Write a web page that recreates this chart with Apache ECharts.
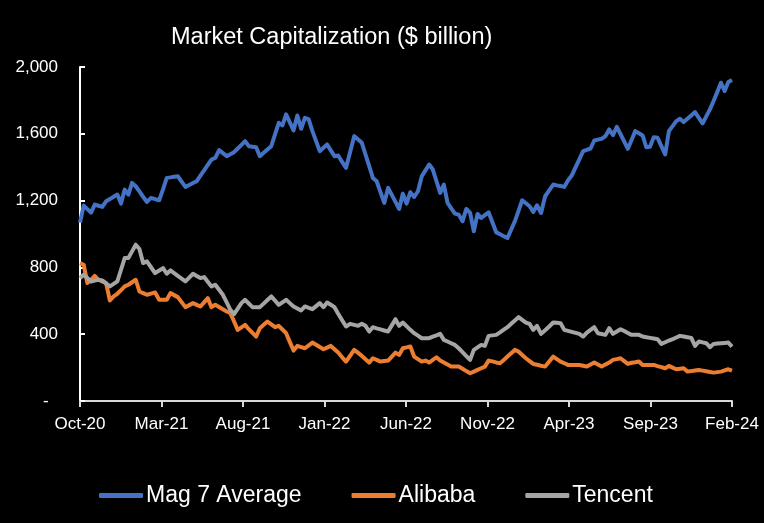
<!DOCTYPE html>
<html>
<head>
<meta charset="utf-8">
<script src="https://cdn.jsdelivr.net/npm/echarts@6/dist/echarts.min.js"></script>
<style>
  html, body { margin: 0; background: #000; }
  #chart { width: 764px; height: 523px; }
</style>
</head>
<body>
<div id="chart"></div>
<script>
// weekly observations, first one on 1 Oct 2020
var startDate = '2020-10-01';
var tickLabels = ['Oct-20', 'Mar-21', 'Aug-21', 'Jan-22', 'Jun-22', 'Nov-22', 'Apr-23', 'Sep-23', 'Feb-24'];

var mag7 = [1068, 1170, 1149, 1128, 1176, 1169, 1162, 1196, 1209, 1223, 1236, 1182, 1266, 1236, 1306, 1286, 1255, 1223, 1192, 1216,
  1209, 1202, 1269, 1336, 1339, 1343, 1346, 1314, 1282, 1293, 1305, 1316, 1349, 1381, 1414, 1446, 1456, 1502, 1484, 1466,
  1478, 1490, 1512, 1534, 1556, 1526, 1523, 1520, 1466, 1486, 1506, 1526, 1596, 1666, 1650, 1716, 1668, 1620, 1710, 1630,
  1696, 1686, 1616, 1556, 1496, 1516, 1536, 1501, 1466, 1470, 1433, 1396, 1491, 1586, 1566, 1546, 1476, 1406, 1336, 1316,
  1251, 1186, 1276, 1234, 1192, 1150, 1242, 1182, 1250, 1222, 1256, 1346, 1381, 1416, 1386, 1316, 1246, 1296, 1186, 1154,
  1122, 1116, 1076, 1150, 1126, 1016, 1120, 1096, 1113, 1130, 1070, 1010, 999, 987, 976, 1026, 1076, 1139, 1202, 1184,
  1166, 1132, 1172, 1126, 1226, 1261, 1296, 1291, 1287, 1282, 1320, 1350, 1399, 1447, 1496, 1504, 1512, 1560, 1565, 1570,
  1586, 1626, 1592, 1642, 1598, 1554, 1510, 1563, 1616, 1603, 1590, 1520, 1522, 1580, 1576, 1526, 1476, 1616, 1646, 1676,
  1690, 1670, 1690, 1710, 1730, 1696, 1662, 1704, 1746, 1796, 1851, 1906, 1856, 1910, 1922];

var alibaba = [826, 816, 706, 726, 750, 726, 716, 706, 602, 626, 642, 664, 686, 696, 711, 726, 656, 646, 636, 643,
  650, 606, 606, 606, 646, 634, 622, 592, 562, 574, 586, 576, 566, 591, 616, 562, 576, 563, 549, 536,
  526, 476, 426, 441, 456, 430, 408, 386, 436, 456, 476, 459, 442, 450, 428, 406, 354, 302, 330, 323,
  316, 333, 350, 337, 323, 310, 320, 330, 310, 290, 263, 236, 271, 306, 288, 270, 250, 230, 256, 246,
  236, 239, 242, 266, 290, 276, 316, 321, 326, 266, 251, 236, 242, 230, 246, 262, 242, 230, 218, 206,
  206, 206, 193, 179, 166, 176, 186, 196, 206, 242, 237, 231, 226, 246, 266, 286, 306, 296, 276, 256,
  239, 222, 217, 211, 206, 236, 266, 251, 236, 226, 216, 216, 216, 216, 211, 206, 218, 230, 218, 206,
  218, 230, 246, 251, 256, 239, 222, 229, 232, 236, 216, 216, 216, 216, 209, 203, 196, 210, 200, 190,
  193, 196, 176, 179, 183, 186, 182, 178, 174, 170, 173, 176, 183, 190, 182];

var tencent = [736, 756, 736, 716, 721, 726, 722, 704, 686, 701, 716, 786, 856, 856, 896, 936, 910, 826, 836, 801,
  766, 781, 796, 762, 782, 766, 749, 733, 716, 739, 762, 749, 736, 742, 714, 686, 696, 666, 636, 591,
  546, 520, 553, 586, 606, 584, 562, 562, 562, 583, 605, 626, 601, 576, 591, 606, 586, 566, 554, 542,
  566, 558, 550, 568, 586, 562, 590, 576, 562, 523, 485, 446, 462, 456, 450, 462, 450, 416, 442, 435,
  429, 422, 416, 453, 490, 450, 470, 448, 426, 406, 391, 376, 376, 376, 385, 393, 402, 366, 356, 346,
  336, 316, 293, 269, 246, 306, 321, 336, 330, 390, 393, 396, 411, 427, 442, 462, 482, 502, 486, 470,
  462, 426, 450, 402, 424, 446, 470, 468, 466, 426, 420, 414, 408, 402, 386, 410, 426, 442, 406, 401,
  396, 436, 402, 416, 430, 419, 407, 396, 396, 396, 386, 382, 378, 374, 370, 342, 352, 362, 370, 380,
  390, 386, 382, 378, 330, 356, 351, 346, 322, 342, 344, 346, 348, 350, 326];

// position of a date on the axis, in months after 1 Oct 2020
function monthPos(d) {
  var first = Date.UTC(d.getUTCFullYear(), d.getUTCMonth(), 1);
  var next = Date.UTC(d.getUTCFullYear(), d.getUTCMonth() + 1, 1);
  return (d.getUTCFullYear() - 2020) * 12 + d.getUTCMonth() - 9 + (d.getTime() - first) / (next - first);
}

var weeks = [];
for (var i = 0; i < mag7.length; i++) {
  weeks.push(monthPos(new Date(Date.parse(startDate) + i * 7 * 864e5)));
}

function pairs(values) {
  return values.map(function (v, i) { return [weeks[i], v]; });
}

var font = 'Liberation Sans';
var chart = echarts.init(document.getElementById('chart'));

chart.setOption({
  backgroundColor: '#000',
  animation: false,
  title: {
    text: 'Market Capitalization ($ billion)',
    left: 166, top: 21,
    textStyle: {color: '#fff', fontFamily: font, fontSize: 23.5, fontWeight: 'normal'}
  },
  grid: {left: 80, right: 32, top: 67, bottom: 122},
  legend: {
    left: 94, top: 479,
    icon: 'roundRect',
    itemWidth: 44, itemHeight: 5, itemGap: 50,
    textStyle: {color: '#fff', fontFamily: font, fontSize: 23, padding: [0, 0, 0, -2]},
    data: ['Mag 7 Average', 'Alibaba', 'Tencent']
  },
  xAxis: {
    type: 'value',
    min: 0, max: 40, interval: 5,
    splitLine: {show: false},
    axisLine: {lineStyle: {color: '#d9d9d9', width: 2}},
    axisTick: {show: true, length: 6, lineStyle: {color: '#d9d9d9', width: 2}},
    axisLabel: {
      color: '#fff', fontFamily: font, fontSize: 17, margin: 15,
      formatter: function (v) { return tickLabels[Math.round(v / 5)]; }
    }
  },
  yAxis: {
    type: 'value',
    min: 0, max: 2000, interval: 400,
    splitLine: {show: false},
    axisLine: {show: true, lineStyle: {color: '#fff', width: 2}},
    axisTick: {show: true, inside: true, length: 5, lineStyle: {color: '#fff', width: 2}},
    axisLabel: {
      color: '#fff', fontFamily: font, fontSize: 17, margin: 22,
      formatter: function (v) { return v === 0 ? '-  ' : v.toLocaleString('en-US'); }
    }
  },
  series: [
    {name: 'Mag 7 Average', type: 'line', data: pairs(mag7), showSymbol: false, color: '#4472C4', lineStyle: {width: 4, join: 'round'}},
    {name: 'Alibaba', type: 'line', data: pairs(alibaba), showSymbol: false, color: '#ED7D31', lineStyle: {width: 4, join: 'round'}},
    {name: 'Tencent', type: 'line', data: pairs(tencent), showSymbol: false, color: '#A5A5A5', lineStyle: {width: 4, join: 'round'}}
  ]
});
</script>
</body>
</html>
